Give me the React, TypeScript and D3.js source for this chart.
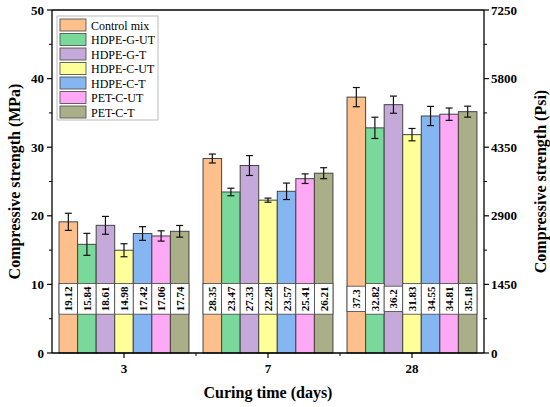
import * as d3 from "d3";

const categories = ["3", "7", "28"];
const series = ["Control mix", "HDPE-G-UT", "HDPE-G-T", "HDPE-C-UT", "HDPE-C-T", "PET-C-UT", "PET-C-T"];
const colors = ["#FDC08D", "#78D99A", "#C5A9D8", "#FFFF99", "#86B6F1", "#FFA8F6", "#AAAF88"];
// means per series, for 3, 7, 28 days
const means = [
  [19.12, 28.35, 37.3],
  [15.84, 23.47, 32.82],
  [18.61, 27.33, 36.2],
  [14.98, 22.28, 31.83],
  [17.42, 23.57, 34.55],
  [17.06, 25.41, 34.81],
  [17.74, 26.21, 35.18],
];
const errors = [
  [1.25, 0.65, 1.4],
  [1.6, 0.55, 1.55],
  [1.3, 1.45, 1.25],
  [0.95, 0.3, 0.9],
  [1.0, 1.2, 1.4],
  [0.75, 0.7, 0.9],
  [0.85, 0.8, 0.8],
];
const labels = [
  ["19.12", "28.35", "37.3"],
  ["15.84", "23.47", "32.82"],
  ["18.61", "27.33", "36.2"],
  ["14.98", "22.28", "31.83"],
  ["17.42", "23.57", "34.55"],
  ["17.06", "25.41", "34.81"],
  ["17.74", "26.21", "35.18"],
];
const mpaTicks = [0, 10, 20, 30, 40, 50];
const psiTicks = [0, 1450, 2900, 4350, 5800, 7250];

const W = 550;
const H = 407;
const m = { left: 52, right: 66, top: 10, bottom: 54 };
const font = "'Liberation Serif', 'Times New Roman', serif";

export default function App() {
  const x0 = d3
    .scaleBand<string>()
    .domain(categories)
    .range([m.left, W - m.right])
    .paddingInner(0)
    .paddingOuter(0);
  const x1 = d3
    .scaleBand<string>()
    .domain(series)
    .range([0, x0.bandwidth()])
    .paddingInner(0)
    .paddingOuter(0.38);
  const y = d3.scaleLinear().domain([0, 50]).range([H - m.bottom, m.top]);
  const y2 = d3.scaleLinear().domain([0, 7250]).range([H - m.bottom, m.top]);

  const left = m.left;
  const right = W - m.right;
  const bottom = H - m.bottom;
  const top = m.top;
  const bw = x1.bandwidth();

  const minorY = d3.range(5, 50, 10);
  const minorY2 = d3.range(725, 7250, 1450);
  const minorX = categories.slice(1).map((c) => x0(c)!);

  return (
    <svg
      width={W}
      height={H}
      style={{ position: "absolute", left: 0, top: 0, background: "#fff" }}
      fontFamily={font}
    >
      {/* bars */}
      {series.map((s, si) =>
        categories.map((c, ci) => {
          const bx = x0(c)! + x1(s)!;
          const v = means[si][ci];
          return (
            <rect
              key={s + c}
              x={bx}
              y={y(v)}
              width={bw}
              height={bottom - y(v)}
              fill={colors[si]}
              stroke="#444"
              strokeWidth={1}
            />
          );
        })
      )}
      {/* error bars */}
      {series.map((s, si) =>
        categories.map((c, ci) => {
          const cx = x0(c)! + x1(s)! + bw / 2;
          const v = means[si][ci];
          const e = errors[si][ci];
          const cap = 3.5;
          return (
            <g key={"e" + s + c} stroke="#111" strokeWidth={1.2}>
              <line x1={cx} x2={cx} y1={y(v + e)} y2={y(v - e)} />
              <line x1={cx - cap} x2={cx + cap} y1={y(v + e)} y2={y(v + e)} />
              <line x1={cx - cap} x2={cx + cap} y1={y(v - e)} y2={y(v - e)} />
            </g>
          );
        })
      )}
      {/* value labels, rotated */}
      {series.map((s, si) =>
        categories.map((c, ci) => {
          const cx = x0(c)! + x1(s)! + bw / 2;
          const t = labels[si][ci];
          const tw = t.replace(".", "").length * 5.5 + 2.75;
          const hh = tw + 6;
          const cy = y(7.9);
          return (
            <g key={"l" + s + c}>
              <rect
                x={cx - bw / 2}
                y={cy - hh / 2}
                width={bw}
                height={hh}
                fill="#fff"
                stroke="#444"
                strokeWidth={0.8}
              />
              <g transform={`translate(${cx + 4},${cy}) rotate(-90)`}>
                <text x={0} y={0} textAnchor="middle" fontSize={11} fontWeight="bold" fill="#000">
                  {t}
                </text>
              </g>
            </g>
          );
        })
      )}
      {/* frame */}
      <g stroke="#000" strokeWidth={1.3} fill="none">
        <line x1={left} x2={right} y1={top} y2={top} />
        <line x1={left} x2={right} y1={bottom} y2={bottom} />
        <line x1={left} x2={left} y1={top} y2={bottom} />
        <line x1={right} x2={right} y1={top} y2={bottom} />
      </g>
      {/* left axis */}
      {mpaTicks.map((t) => (
        <g key={"yl" + t}>
          <line x1={left - 5} x2={left} y1={y(t)} y2={y(t)} stroke="#000" strokeWidth={1.2} />
          <text x={left - 8} y={y(t) + 4.5} textAnchor="end" fontSize={13} fontWeight="bold">
            {t}
          </text>
        </g>
      ))}
      {minorY.map((t) => (
        <line key={"ym" + t} x1={left - 3} x2={left} y1={y(t)} y2={y(t)} stroke="#000" strokeWidth={1} />
      ))}
      {/* right axis */}
      {psiTicks.map((t) => (
        <g key={"yr" + t}>
          <line x1={right} x2={right + 5} y1={y2(t)} y2={y2(t)} stroke="#000" strokeWidth={1.2} />
          <text x={right + 7} y={y2(t) + 4.5} textAnchor="start" fontSize={13} fontWeight="bold">
            {t}
          </text>
        </g>
      ))}
      {minorY2.map((t) => (
        <line key={"yrm" + t} x1={right} x2={right + 3} y1={y2(t)} y2={y2(t)} stroke="#000" strokeWidth={1} />
      ))}
      {/* x axis */}
      {categories.map((c) => {
        const cx = x0(c)! + x0.bandwidth() / 2;
        return (
          <g key={"x" + c}>
            <line x1={cx} x2={cx} y1={bottom} y2={bottom + 5} stroke="#000" strokeWidth={1.2} />
            <text x={cx} y={bottom + 20} textAnchor="middle" fontSize={13} fontWeight="bold">
              {c}
            </text>
          </g>
        );
      })}
      {minorX.map((xv) => (
        <line key={"xm" + xv} x1={xv} x2={xv} y1={bottom} y2={bottom + 3} stroke="#000" strokeWidth={1} />
      ))}
      {/* axis titles */}
      <text x={(left + right) / 2} y={H - 9} textAnchor="middle" fontSize={16} fontWeight="bold">
        Curing time (days)
      </text>
      <g transform={`translate(20,${(top + bottom) / 2}) rotate(-90)`}>
        <text textAnchor="middle" fontSize={16} fontWeight="bold">
          Compressive strength (MPa)
        </text>
      </g>
      <g transform={`translate(546,${(top + bottom) / 2}) rotate(-90)`}>
        <text textAnchor="middle" fontSize={16} fontWeight="bold">
          Compressive strength (Psi)
        </text>
      </g>
      {/* legend */}
      <g transform="translate(57,16)">
        <rect x={0} y={0} width={101} height={104} fill="#fff" stroke="#aaa" strokeWidth={0.8} />
        {series.map((s, i) => (
          <g key={"lg" + s} transform={`translate(3,${3 + i * 14.5})`}>
            <rect x={0} y={0} width={26} height={12} fill={colors[i]} stroke="#555" strokeWidth={0.9} />
            <text x={31} y={10.5} fontSize={12} fill="#000">
              {s}
            </text>
          </g>
        ))}
      </g>
    </svg>
  );
}
